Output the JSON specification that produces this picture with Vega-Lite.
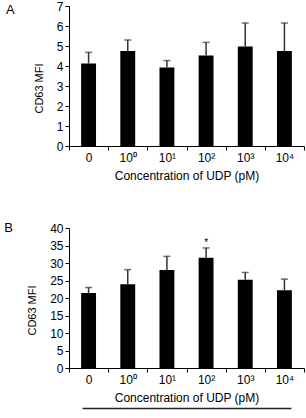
{
  "$schema": "https://vega.github.io/schema/vega-lite/v6.json",
  "padding": {"left": 4, "top": 0, "right": 0, "bottom": 0},
  "spacing": 41,
  "config": {
    "font": "Liberation Sans",
    "view": {"stroke": null},
    "axis": {
      "grid": false,
      "domainColor": "#000",
      "tickColor": "#000",
      "labelColor": "#000",
      "titleColor": "#000",
      "titleFontWeight": "normal",
      "labelFontSize": 12,
      "tickSize": 4
    },
    "axisX": {"labelAngle": 0, "labelPadding": 2, "titlePadding": 7, "titleFontSize": 12, "tickBand": "extent"},
    "axisY": {"labelPadding": 2, "titlePadding": 12, "titleFontSize": 11, "titleY": 82, "labelOverlap": false},
    "title": {"fontSize": 13, "fontWeight": "normal", "orient": "left", "anchor": "end", "frame": "group", "angle": 0, "align": "right", "baseline": "top", "color": "#000"}
  },
  "vconcat": [
    {
      "title": {"text": "A", "offset": 10, "dy": -2},
      "width": 235,
      "height": 140,
      "data": {"values": [
        {"conc": "0", "mfi": 4.13, "upper": 4.68},
        {"conc": "10⁰", "mfi": 4.75, "upper": 5.3},
        {"conc": "10¹", "mfi": 3.93, "upper": 4.27},
        {"conc": "10²", "mfi": 4.52, "upper": 5.18},
        {"conc": "10³", "mfi": 4.97, "upper": 6.15},
        {"conc": "10⁴", "mfi": 4.75, "upper": 6.15}
      ]},
      "encoding": {
        "x": {"field": "conc", "type": "nominal", "sort": null,
              "scale": {"paddingInner": 0, "paddingOuter": 0},
              "axis": {"title": "Concentration of UDP (pM)"}}
      },
      "layer": [
        {"mark": {"type": "bar", "color": "#000", "width": {"band": 0.38}},
         "encoding": {"y": {"field": "mfi", "type": "quantitative", "title": "CD63 MFI",
                            "scale": {"domain": [0, 7]},
                            "axis": {"values": [0, 1, 2, 3, 4, 5, 6, 7]}}}},
        {"mark": {"type": "rule", "color": "#333", "strokeWidth": 1.5},
         "encoding": {"y": {"field": "mfi", "type": "quantitative", "title": "CD63 MFI", "axis": {"values": [0, 1, 2, 3, 4, 5, 6, 7]}}, "y2": {"field": "upper"}}},
        {"mark": {"type": "tick", "color": "#333", "thickness": 1.5, "size": 7},
         "encoding": {"y": {"field": "upper", "type": "quantitative", "title": "CD63 MFI", "axis": {"values": [0, 1, 2, 3, 4, 5, 6, 7]}}}}
      ]
    },
    {
      "title": {"text": "B", "offset": 5, "dy": -6},
      "width": 235,
      "height": 140,
      "data": {"values": [
        {"conc": "0", "mfi": 21.4, "upper": 23.0, "sig": ""},
        {"conc": "10⁰", "mfi": 23.9, "upper": 28.1, "sig": ""},
        {"conc": "10¹", "mfi": 28.0, "upper": 31.9, "sig": ""},
        {"conc": "10²", "mfi": 31.5, "upper": 34.3, "sig": "*"},
        {"conc": "10³", "mfi": 25.2, "upper": 27.3, "sig": ""},
        {"conc": "10⁴", "mfi": 22.2, "upper": 25.4, "sig": ""}
      ]},
      "encoding": {
        "x": {"field": "conc", "type": "nominal", "sort": null,
              "scale": {"paddingInner": 0, "paddingOuter": 0},
              "axis": {"title": "Concentration of UDP (pM)"}}
      },
      "layer": [
        {"mark": {"type": "bar", "color": "#000", "width": {"band": 0.38}},
         "encoding": {"y": {"field": "mfi", "type": "quantitative", "title": "CD63 MFI",
                            "scale": {"domain": [0, 40]},
                            "axis": {"values": [0, 5, 10, 15, 20, 25, 30, 35, 40]}}}},
        {"mark": {"type": "rule", "color": "#333", "strokeWidth": 1.5},
         "encoding": {"y": {"field": "mfi", "type": "quantitative", "title": "CD63 MFI", "axis": {"values": [0, 5, 10, 15, 20, 25, 30, 35, 40]}}, "y2": {"field": "upper"}}},
        {"mark": {"type": "tick", "color": "#333", "thickness": 1.5, "size": 7},
         "encoding": {"y": {"field": "upper", "type": "quantitative", "title": "CD63 MFI", "axis": {"values": [0, 5, 10, 15, 20, 25, 30, 35, 40]}}}},
        {"mark": {"type": "text", "fontSize": 10, "baseline": "middle", "dy": -5, "fill": "#000"},
         "encoding": {"y": {"field": "upper", "type": "quantitative", "title": "CD63 MFI", "axis": {"values": [0, 5, 10, 15, 20, 25, 30, 35, 40]}}, "text": {"field": "sig"}}},
        {"data": {"values": [{"line": "group"}]},
         "mark": {"type": "rule", "color": "#222", "strokeWidth": 1.5, "xOffset": -6, "x2Offset": 7},
         "encoding": {"x": {"datum": "0"}, "x2": {"datum": "10⁴"},
                      "y": {"datum": -11.6, "type": "quantitative", "title": "CD63 MFI", "axis": {"values": [0, 5, 10, 15, 20, 25, 30, 35, 40]}}}}
      ]
    }
  ]
}
